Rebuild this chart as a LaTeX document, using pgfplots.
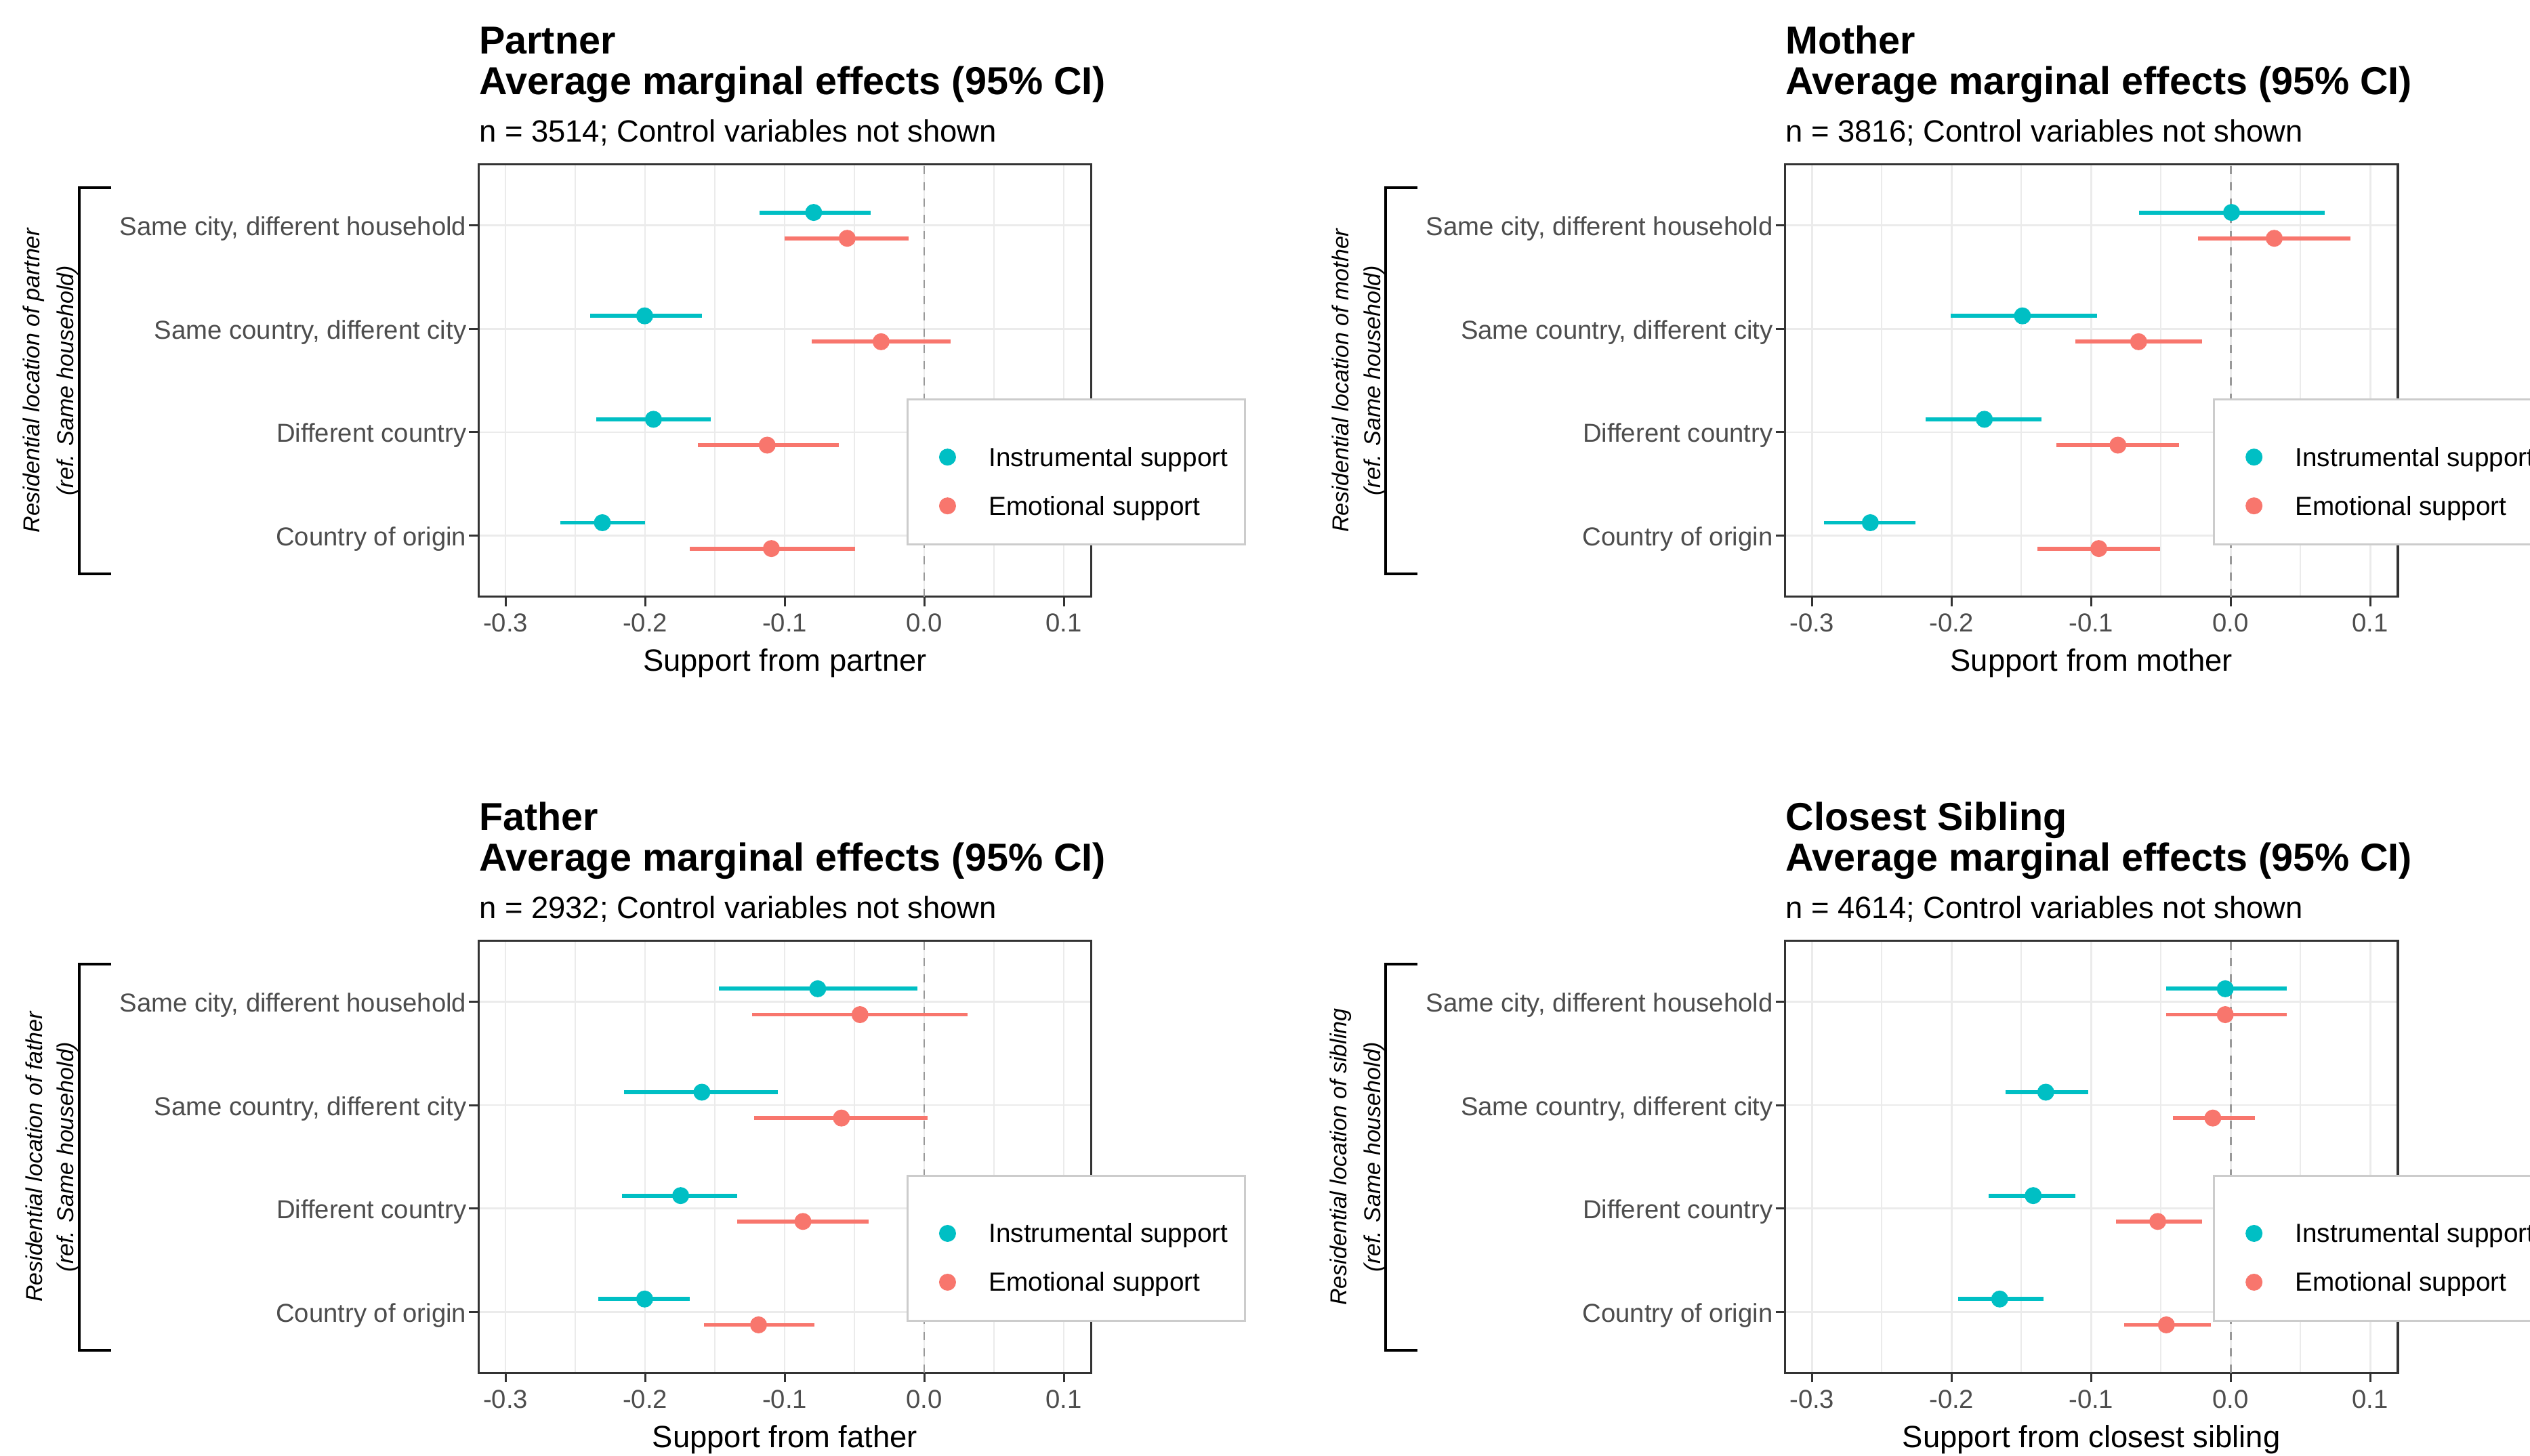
\documentclass[border=0pt]{standalone}
\usepackage{pgfplots}
\pgfplotsset{compat=1.18}
\usepackage{pgfplotstable}
\usepackage{fontspec}
\setmainfont{Liberation Sans}
\definecolor{inst}{HTML}{00BFC4}
\definecolor{emo}{HTML}{F8766D}
\definecolor{gridc}{HTML}{EBEBEB}
\definecolor{tickc}{HTML}{4D4D4D}
\definecolor{framec}{HTML}{333333}

\pgfplotstableread{
y inst ilo ihi emo elo ehi
4 -0.0792 -0.1178 -0.0386 -0.0552 -0.1000 -0.0110
3 -0.2003 -0.2395 -0.1593 -0.0309 -0.0804 0.0190
2 -0.1940 -0.2350 -0.1530 -0.1125 -0.1623 -0.0611
1 -0.2306 -0.2608 -0.2000 -0.1095 -0.1682 -0.0493
}\partner
\pgfplotstableread{
y inst ilo ihi emo elo ehi
4 0.0006 -0.0657 0.0672 0.0312 -0.0232 0.0859
3 -0.1492 -0.2006 -0.0960 -0.0660 -0.1111 -0.0205
2 -0.1765 -0.2184 -0.1355 -0.0808 -0.1248 -0.0369
1 -0.2582 -0.2912 -0.2261 -0.0945 -0.1385 -0.0505
}\mother
\pgfplotstableread{
y inst ilo ihi emo elo ehi
4 -0.0763 -0.1472 -0.0047 -0.0460 -0.1231 0.0312
3 -0.1593 -0.2151 -0.1047 -0.0593 -0.1217 0.0024
2 -0.1745 -0.2166 -0.1338 -0.0869 -0.1338 -0.0398
1 -0.2003 -0.2335 -0.1682 -0.1187 -0.1579 -0.0789
}\father
\pgfplotstableread{
y inst ilo ihi emo elo ehi
4 -0.0039 -0.0461 0.0401 -0.0039 -0.0461 0.0401
3 -0.1325 -0.1611 -0.1019 -0.0128 -0.0413 0.0175
2 -0.1415 -0.1733 -0.1111 -0.0523 -0.0820 -0.0205
1 -0.1655 -0.1955 -0.1340 -0.0461 -0.0764 -0.0140
}\sibling

\pgfplotsset{
  panel/.style={
    width=180.86pt, height=127.6pt, scale only axis,
    xmin=-0.3193, xmax=0.1197, ymin=0.41, ymax=4.59,
    xtick={-0.3,-0.2,-0.1,0,0.1},
    xticklabels={-0.3,-0.2,-0.1,0.0,0.1},
    minor xtick={-0.25,-0.15,-0.05,0.05},
    ytick={1,2,3,4},
    yticklabels={Country of origin,Different country,{Same country, different city},{Same city, different household}},
    grid=both,
    major grid style={color=gridc, line width=0.5pt},
    minor grid style={color=gridc, line width=0.4pt},
    tick align=outside, major tick length=2.8pt, minor tick length=0pt,
    xtick pos=bottom, ytick pos=left,
    tick style={color=framec, line width=0.6pt},
    axis line style={color=framec, line width=0.7pt},
    tick label style={font=\fontsize{7.66}{9}\selectfont, text=tickc},
    xticklabel style={anchor=north, inner sep=0pt, yshift=-2.0pt},
    yticklabel style={anchor=east, inner sep=0pt, xshift=-0.6pt, yshift=-1pt},
    every axis x label/.style={at={(axis description cs:0.5,0)}, anchor=base, yshift=-21.94pt, font=\fontsize{9.08}{11}\selectfont},
    clip=false,
    legend style={at={(0.6985,0.4584)}, anchor=north west, draw=black!20, line width=0.6pt, fill=white,
      font=\fontsize{7.74}{9}\selectfont, inner xsep=5.05pt, inner ysep=7.1pt, row sep=0.2pt, column sep=9.7pt,
      nodes={inner sep=0pt, anchor=base west, text height=12.6pt, text depth=1.6pt}},
    legend image code/.code={\path[draw=none,fill=none] (-6.75pt,2.7pt) rectangle (2.5pt,2.8pt); \fill[#1,draw=none] (0pt,2.7pt) circle (2.5pt);},
  },
  pr/.style={only marks, mark=*, mark size=2.3pt, color=#1,
    error bars/.cd, x dir=both, x explicit, error mark=none,
    error bar style={line width=1.18pt, color=#1}},
}

\newcommand\panel[7]{%
\begin{scope}[shift={(#1,#2)}]
\begin{axis}[panel, at={(0pt,0pt)}, anchor=north west, xlabel={#6}]
\addplot[forget plot, color=black!40, line width=0.5pt, dash pattern=on 2.4pt off 2.4pt] coordinates {(0,0.41) (0,4.59)};
\addplot[pr=inst] table[x=inst, y expr=\thisrow{y}+0.125, x error plus expr=\thisrow{ihi}-\thisrow{inst}, x error minus expr=\thisrow{inst}-\thisrow{ilo}] {#3};
\addplot[pr=emo] table[x=emo, y expr=\thisrow{y}-0.125, x error plus expr=\thisrow{ehi}-\thisrow{emo}, x error minus expr=\thisrow{emo}-\thisrow{elo}] {#3};
\legend{Instrumental support,Emotional support}
\end{axis}
\node[anchor=base west, inner sep=0pt, font=\bfseries\fontsize{11.5}{13}\selectfont] at (0pt,32.52pt) {#4};
\node[anchor=base west, inner sep=0pt, font=\bfseries\fontsize{11.5}{13}\selectfont] at (0pt,20.52pt) {Average marginal effects (95\% CI)};
\node[anchor=base west, inner sep=0pt, font=\fontsize{9.08}{11}\selectfont] at (0pt,6.52pt) {n = #5; Control variables not shown};
\node[rotate=90, inner sep=0pt, font=\itshape\fontsize{6.8}{8}\selectfont] at (-131.26pt,-63.8pt) {Residential location of #7};
\node[rotate=90, inner sep=0pt, font=\itshape\fontsize{6.8}{8}\selectfont] at (-121.26pt,-63.8pt) {(ref. Same household)};
\draw[line width=0.8pt] (-108.46pt,-6.88pt) -- (-117.86pt,-6.88pt) -- (-117.86pt,-120.88pt) -- (-108.46pt,-120.88pt);
\end{scope}}

\begin{document}
\begin{tikzpicture}
\panel{141.26pt}{381.08pt}{\partner}{Partner}{3514}{Support from partner}{partner}
\panel{526.9pt}{381.08pt}{\mother}{Mother}{3816}{Support from mother}{mother}
\panel{141.26pt}{151.92pt}{\father}{Father}{2932}{Support from father}{father}
\panel{526.9pt}{151.92pt}{\sibling}{Closest Sibling}{4614}{Support from closest sibling}{sibling}
\pgfresetboundingbox
\path[use as bounding box] (0pt,0pt) rectangle (746.8pt,429.6pt);
\end{tikzpicture}
\end{document}
